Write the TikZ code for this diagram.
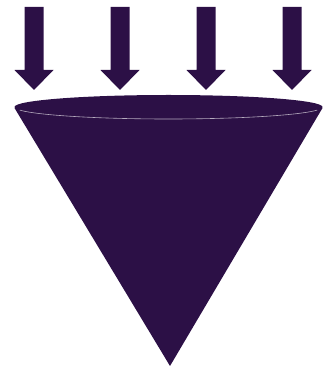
\documentclass[tikz,border=0pt]{standalone}
\usepackage{tikz}
\definecolor{funnel}{RGB}{44,16,70}
\begin{document}
\begin{tikzpicture}[x=1pt,y=1pt,
  down/.style={fill=funnel},
  rim/.style={draw=funnel!35!white, line width=0.6pt}]
\useasboundingbox (0,0) rectangle (324,367);
\fill[down] (24.5,360) -- (43.5,360) -- (43.5,297) -- (53.5,297) -- (34,277) -- (14.5,297) -- (24.5,297) -- cycle;
\fill[down] (110.5,360) -- (129.5,360) -- (129.5,297) -- (139.5,297) -- (120,277) -- (100.5,297) -- (110.5,297) -- cycle;
\fill[down] (196.5,360) -- (215.5,360) -- (215.5,297) -- (225.5,297) -- (206,277) -- (186.5,297) -- (196.5,297) -- cycle;
\fill[down] (282.5,360) -- (301.5,360) -- (301.5,297) -- (311.5,297) -- (292,277) -- (272.5,297) -- (282.5,297) -- cycle;
\fill[funnel] (14.5,259) -- (170,1) -- (322.5,259) -- cycle;
\fill[funnel] (168.5,260) ellipse (154 and 12);
\draw[rim] ([shift={(195:154 and 12)}]168.5,260) arc[start angle=195, end angle=345, x radius=154, y radius=12];
\end{tikzpicture}
\end{document}
